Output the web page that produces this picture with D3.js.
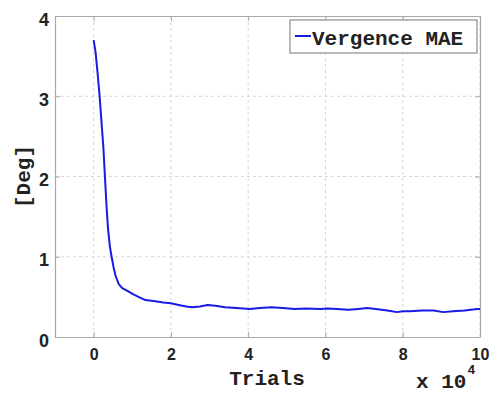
<!DOCTYPE html>
<html>
<head>
<meta charset="utf-8">
<script src="https://cdn.jsdelivr.net/npm/d3@7"></script>
<style>
  html, body { margin: 0; padding: 0; background: #fff; }
  svg { display: block; }
</style>
</head>
<body>
<svg id="chart"></svg>
<script>
// trials in units of 10^4
const trials = [0, 0.05, 0.1, 0.155, 0.2, 0.25, 0.29, 0.33, 0.37, 0.42, 0.465, 0.52, 0.57, 0.65, 0.74,
  0.85, 1.03, 1.2, 1.34, 1.6, 1.8, 2.0, 2.2, 2.4, 2.55, 2.75, 2.95, 3.15, 3.4, 3.7, 4.05, 4.3, 4.6,
  4.9, 5.2, 5.5, 5.87, 6.05, 6.3, 6.6, 6.85, 7.08, 7.3, 7.6, 7.85, 8.0, 8.2, 8.5, 8.8, 9.05, 9.3,
  9.6, 9.93, 10];
const mae = [3.70, 3.55, 3.30, 3.00, 2.70, 2.38, 2.02, 1.66, 1.36, 1.13, 1.00, 0.86, 0.76, 0.66, 0.61,
  0.58, 0.53, 0.49, 0.46, 0.445, 0.43, 0.42, 0.40, 0.38, 0.37, 0.38, 0.40, 0.39, 0.37, 0.36, 0.35, 0.36, 0.37,
  0.36, 0.35, 0.355, 0.35, 0.355, 0.35, 0.34, 0.35, 0.36, 0.35, 0.33, 0.31, 0.32, 0.32, 0.33, 0.33, 0.31, 0.32,
  0.33, 0.35, 0.35];
const xTicks = [0, 2, 4, 6, 8, 10];
const yTicks = [0, 1, 2, 3, 4];
const seriesName = 'Vergence MAE';

const width = 492, height = 394;
const margin = { top: 16, right: 12, bottom: 57, left: 55 };

const svg = d3.select('#chart').attr('width', width).attr('height', height);

const x = d3.scaleLinear().domain([-1, 10]).range([margin.left, width - margin.right]);
const y = d3.scaleLinear().domain([0, 4]).range([height - margin.bottom, margin.top]);

const gridColor = '#d6d6d6';
const frameColor = '#a8a8a8';
const mono = '"Liberation Mono", "Courier New", monospace';
const sans = '"Liberation Sans", Arial, sans-serif';

// grid
svg.append('g')
  .selectAll('line')
  .data(xTicks)
  .join('line')
  .attr('x1', d => x(d)).attr('x2', d => x(d))
  .attr('y1', y(4)).attr('y2', y(0))
  .attr('stroke', gridColor)
  .attr('stroke-dasharray', '3,3');

svg.append('g')
  .selectAll('line')
  .data(yTicks.filter(d => d > 0 && d < 4))
  .join('line')
  .attr('x1', x(-1)).attr('x2', x(10))
  .attr('y1', d => y(d)).attr('y2', d => y(d))
  .attr('stroke', gridColor)
  .attr('stroke-dasharray', '3,3');

// axes (inward ticks, MATLAB style)
const xAxis = svg.append('g')
  .attr('transform', `translate(0,${y(0)})`)
  .call(d3.axisBottom(x).tickValues(xTicks).tickSizeInner(-5).tickSizeOuter(0).tickPadding(12));
const xTop = svg.append('g')
  .attr('transform', `translate(0,${y(4)})`)
  .call(d3.axisTop(x).tickValues(xTicks).tickSizeInner(-5).tickSizeOuter(0).tickFormat(''));
const yAxis = svg.append('g')
  .attr('transform', `translate(${x(-1)},0)`)
  .call(d3.axisLeft(y).tickValues(yTicks).tickFormat(d3.format('d')).tickSizeInner(-5).tickSizeOuter(0).tickPadding(6));
const yRight = svg.append('g')
  .attr('transform', `translate(${x(10)},0)`)
  .call(d3.axisRight(y).tickValues(yTicks).tickSizeInner(-5).tickSizeOuter(0).tickFormat(''));

[xAxis, xTop, yAxis, yRight].forEach(g => {
  g.select('.domain').attr('stroke', frameColor).attr('stroke-width', 1.2);
  g.selectAll('.tick line').attr('stroke', frameColor);
});

xAxis.selectAll('.tick text')
  .attr('font-family', sans).attr('font-size', 16).attr('font-weight', 'bold').attr('fill', '#222');
yAxis.selectAll('.tick text')
  .attr('font-family', sans).attr('font-size', 18).attr('font-weight', 'bold').attr('fill', '#222')
  .attr('dy', '0.5em');

// line
const line = d3.line()
  .x((d, i) => x(trials[i]))
  .y(d => y(d));

svg.append('path')
  .datum(mae)
  .attr('fill', 'none')
  .attr('stroke', '#1a1ae6')
  .attr('stroke-width', 2)
  .attr('stroke-linejoin', 'round')
  .attr('d', line);

// labels
svg.append('text')
  .attr('x', 267).attr('y', 385)
  .attr('text-anchor', 'middle')
  .attr('font-family', mono).attr('font-size', 21).attr('font-weight', 'bold').attr('fill', '#222')
  .text('Trials');

const mult = svg.append('text')
  .attr('x', 416).attr('y', 388)
  .attr('font-family', mono).attr('font-size', 21).attr('font-weight', 'bold').attr('fill', '#222');
mult.append('tspan').text('x 10');
mult.append('tspan').attr('font-size', 13).attr('dy', -14).attr('dx', 1).text('4');

svg.append('text')
  .attr('transform', `translate(30,${(y(0) + y(4)) / 2}) rotate(-90)`)
  .attr('text-anchor', 'middle')
  .attr('font-family', mono).attr('font-size', 21).attr('font-weight', 'bold').attr('fill', '#222')
  .text('[Deg]');

// legend
const legend = svg.append('g');
legend.append('rect')
  .attr('x', 290).attr('y', 20).attr('width', 187).attr('height', 33)
  .attr('fill', '#fff').attr('stroke', '#8c8c8c').attr('stroke-width', 1.2);
legend.append('line')
  .attr('x1', 295).attr('x2', 311).attr('y1', 36).attr('y2', 36)
  .attr('stroke', '#1a1ae6').attr('stroke-width', 2);
legend.append('text')
  .attr('x', 312).attr('y', 45)
  .attr('font-family', mono).attr('font-size', 21).attr('font-weight', 'bold').attr('fill', '#222')
  .text(seriesName);
</script>
</body>
</html>
